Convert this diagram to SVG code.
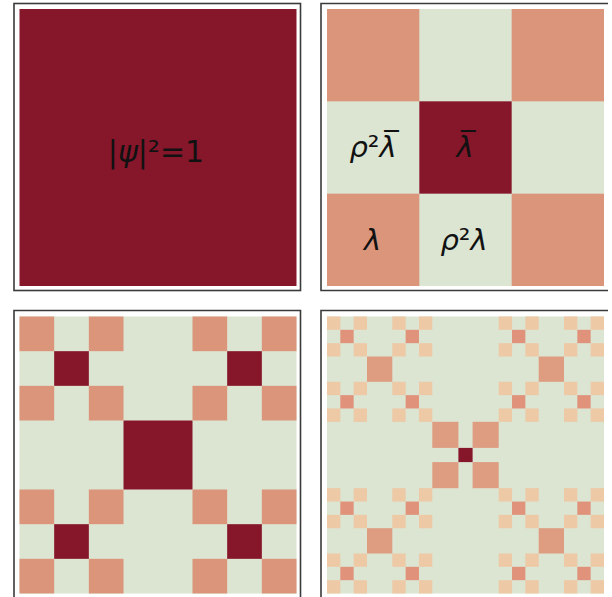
<svg xmlns="http://www.w3.org/2000/svg" width="612" height="597" viewBox="0 0 612 597">
<style>
.D{fill:#86162A}
.S{fill:#DA957A}
.L{fill:#DCE4D2}
.P{fill:#EDC9A6}
.M{fill:#E0937A}
.B{fill:#DE9C80}
.fr{fill:none;stroke:#3a3a3a;stroke-width:1.6}
.t{font-family:"DejaVu Sans",sans-serif;fill:#111;text-anchor:middle}
.i{font-style:italic}
</style>
<rect width="612" height="597" fill="#fff"/>

<g id="panel1">
  <rect class="D" x="19.5" y="9" width="277" height="277"/>
  <rect class="fr" x="14" y="3.5" width="286.5" height="287"/>
  <text class="t" x="156" y="162" font-size="30">|<tspan class="i">ψ</tspan>|²=1</text>
</g>

<g id="panel2">
  <rect class="L" x="327" y="9" width="277" height="277"/>
  <rect class="S" x="327" y="9" width="92.33" height="92.33"/>
  <rect class="S" x="511.67" y="9" width="92.33" height="92.33"/>
  <rect class="S" x="327" y="193.67" width="92.33" height="92.33"/>
  <rect class="S" x="511.67" y="193.67" width="92.33" height="92.33"/>
  <rect class="D" x="419.33" y="101.33" width="92.33" height="92.33"/>
  <path class="fr" d="M608,3.5H321V290.5H608"/>
  <text class="t" x="373" y="157" font-size="29"><tspan class="i">ρ</tspan>²<tspan class="i">λ̅</tspan></text>
  <text class="t" x="465" y="157" font-size="29"><tspan class="i">λ̅</tspan></text>
  <text class="t" x="372.5" y="250" font-size="29"><tspan class="i">λ</tspan></text>
  <text class="t" x="464" y="250" font-size="29"><tspan class="i">ρ</tspan>²<tspan class="i">λ</tspan></text>
</g>

<g id="panel3">
  <rect class="L" x="19.5" y="316.5" width="277" height="277"/>
  <rect class="D" x="123.5" y="420.5" width="69" height="69"/>
  <g id="p3-tl">
    <rect class="S" x="19.5" y="316.5" width="34.67" height="34.67"/>
    <rect class="S" x="88.83" y="316.5" width="34.67" height="34.67"/>
    <rect class="S" x="19.5" y="385.83" width="34.67" height="34.67"/>
    <rect class="S" x="88.83" y="385.83" width="34.67" height="34.67"/>
    <rect class="D" x="54.17" y="351.17" width="34.67" height="34.67"/>
  </g>
  <g id="p3-tr">
    <rect class="S" x="192.5" y="316.5" width="34.67" height="34.67"/>
    <rect class="S" x="261.83" y="316.5" width="34.67" height="34.67"/>
    <rect class="S" x="192.5" y="385.83" width="34.67" height="34.67"/>
    <rect class="S" x="261.83" y="385.83" width="34.67" height="34.67"/>
    <rect class="D" x="227.17" y="351.17" width="34.67" height="34.67"/>
  </g>
  <g id="p3-bl">
    <rect class="S" x="19.5" y="489.5" width="34.67" height="34.67"/>
    <rect class="S" x="88.83" y="489.5" width="34.67" height="34.67"/>
    <rect class="S" x="19.5" y="558.83" width="34.67" height="34.67"/>
    <rect class="S" x="88.83" y="558.83" width="34.67" height="34.67"/>
    <rect class="D" x="54.17" y="524.17" width="34.67" height="34.67"/>
  </g>
  <g id="p3-br">
    <rect class="S" x="192.5" y="489.5" width="34.67" height="34.67"/>
    <rect class="S" x="261.83" y="489.5" width="34.67" height="34.67"/>
    <rect class="S" x="192.5" y="558.83" width="34.67" height="34.67"/>
    <rect class="S" x="261.83" y="558.83" width="34.67" height="34.67"/>
    <rect class="D" x="227.17" y="524.17" width="34.67" height="34.67"/>
  </g>
  <path class="fr" d="M14,597V310.5H300.5V597"/>
</g>

<defs>
  <g id="pat3">
    <rect class="P" x="0" y="0" width="13.33" height="13.33"/>
    <rect class="P" x="26.67" y="0" width="13.33" height="13.33"/>
    <rect class="P" x="0" y="26.67" width="13.33" height="13.33"/>
    <rect class="P" x="26.67" y="26.67" width="13.33" height="13.33"/>
    <rect class="M" x="13.33" y="13.33" width="13.33" height="13.33"/>
  </g>
  <g id="blk9">
    <use href="#pat3" x="0" y="0"/>
    <use href="#pat3" x="65.3" y="0"/>
    <use href="#pat3" x="0" y="65.3"/>
    <use href="#pat3" x="65.3" y="65.3"/>
    <rect class="B" x="40" y="40" width="25.3" height="25.3"/>
  </g>
</defs>

<g id="panel4">
  <rect class="L" x="327" y="316.5" width="277" height="277"/>
  <use href="#blk9" x="327" y="316.5"/>
  <use href="#blk9" x="498.7" y="316.5"/>
  <use href="#blk9" x="327" y="488.2"/>
  <use href="#blk9" x="498.7" y="488.2"/>
  <rect class="B" x="432.3" y="421.8" width="26.1" height="26.1"/>
  <rect class="B" x="472.6" y="421.8" width="26.1" height="26.1"/>
  <rect class="B" x="432.3" y="462.1" width="26.1" height="26.1"/>
  <rect class="B" x="472.6" y="462.1" width="26.1" height="26.1"/>
  <rect class="D" x="458.4" y="447.9" width="14.2" height="14.2"/>
  <path class="fr" d="M321,597V310.5H608"/>
</g>
</svg>
